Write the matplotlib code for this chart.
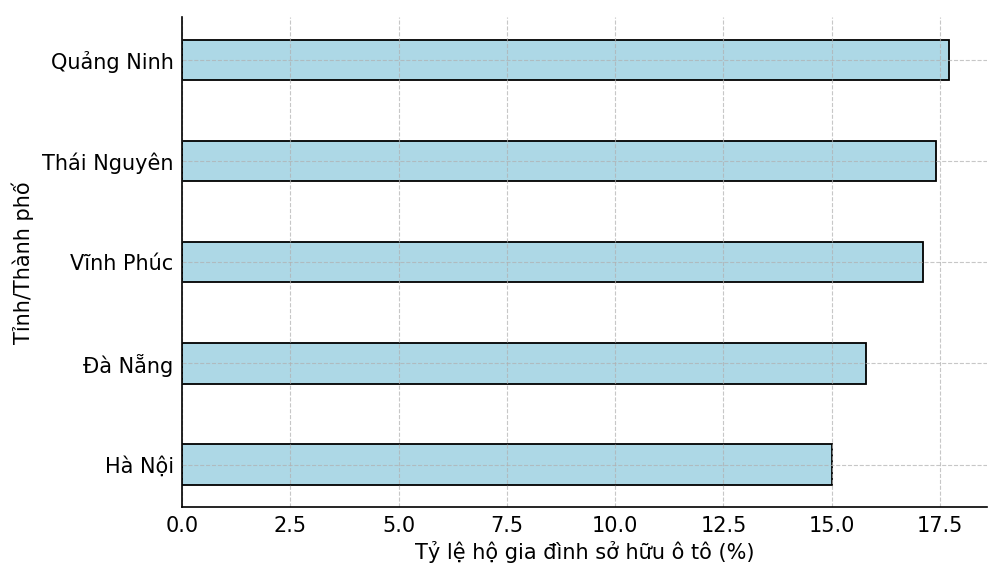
import matplotlib
matplotlib.use('Agg')
import matplotlib.pyplot as plt

# data
provinces = ['Hà Nội', 'Đà Nẵng', 'Vĩnh Phúc', 'Thái Nguyên', 'Quảng Ninh']
rates = [15.0, 15.8, 17.1, 17.4, 17.7]

plt.rcParams['font.family'] = ['DejaVu Sans']

fig, ax = plt.subplots(figsize=(10, 5.77), dpi=100)
ax.barh(provinces, rates, height=0.4, color='lightblue', edgecolor='black', linewidth=1.3, zorder=1)

ax.set_xlabel('Tỷ lệ hộ gia đình sở hữu ô tô (%)', fontsize=15, labelpad=4)
ax.set_ylabel('Tỉnh/Thành phố', fontsize=15, labelpad=6)
ax.tick_params(axis='both', labelsize=15, length=0, pad=6)
ax.set_axisbelow(False)
ax.grid(True, linestyle='--', color='#b0b0b0', linewidth=0.8, alpha=0.7)
ax.spines['top'].set_visible(False)
ax.spines['right'].set_visible(False)
for side in ['left', 'bottom']:
    ax.spines[side].set_linewidth(1.2)
    ax.spines[side].set_zorder(4)

fig.subplots_adjust(left=0.182, right=0.987, top=0.97, bottom=0.121)
fig.savefig('out.png')
